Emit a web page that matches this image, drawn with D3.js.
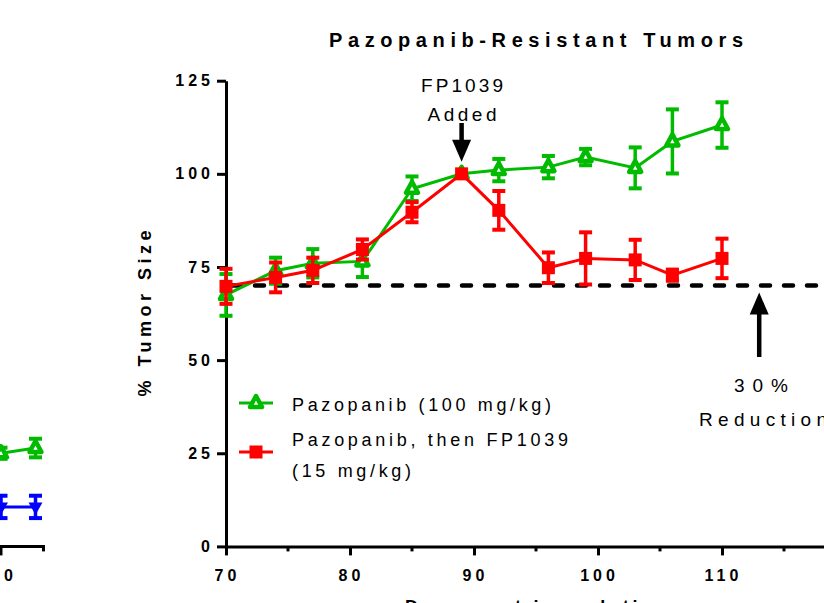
<!DOCTYPE html>
<html>
<head>
<script src="https://cdnjs.cloudflare.com/ajax/libs/d3/7.8.5/d3.min.js"></script>
<title>Pazopanib-Resistant Tumors</title>
<style>
  body { margin: 0; background: #fff; }
  svg { display: block; font-family: "Liberation Sans", Arial, sans-serif; }
</style>
</head>
<body>
<script>
// days post inoculation
var days = [70, 74, 77, 81, 85, 89, 92, 96, 99, 103, 106, 110];
// Pazopanib (100 mg/kg)
var pazMean = [67.5, 74, 76, 76.5, 96, 100, 101, 101.8, 104.5, 101.6, 108.7, 113.1];
var pazErr  = [5.6, 3.5, 3.8, 4.2, 3.3, 0, 3, 3, 2.2, 5.5, 8.6, 6.1];
// Pazopanib, then FP1039 (15 mg/kg)
var fpMean = [69.8, 72.2, 74.1, 79.7, 89.7, 100, 90.2, 74.8, 77.3, 76.9, 72.8, 77.3];
var fpErr  = [4.7, 4, 3.4, 2.7, 2.7, 0, 5.2, 4.1, 7, 5.4, 1.5, 5.3];

// edge of the previous panel (cut off on the left)
var prevDays = [110, 113];
var prevGreen = [25, 26.4], prevGreenErr = [1.5, 2.5];
var prevBlue = [10.6, 10.6], prevBlueErr = [3, 3];

var yTicks = [0, 25, 50, 75, 100, 125];
var xTicks = [70, 80, 90, 100, 110, 120];
var xMinor = [75, 85, 95, 105, 115];
var reductionLevel = 70;
var addedDay = 89, reductionDay = 113;

var green = "#00bb00", red = "#ff0000", blue = "#0000ff";
var width = 824, height = 603;

var svg = d3.select("body").append("svg")
    .attr("width", width)
    .attr("height", height);

var x = d3.scaleLinear().domain([70, 120]).range([226, 846]);
var y = d3.scaleLinear().domain([0, 125]).range([546.4, 80.7]);
var prevX = d3.scaleLinear().domain([110, 113]).range([1, 35.5]);

var triPath = "M0,-7L6,4L-6,4Z";
var downTriPath = "M0,8L7,-4.5L-7,-4.5Z";

function drawSeries(g, sx, xs, means, errs, color, marker) {
    var line = d3.line()
        .x(function(d, i) { return sx(xs[i]); })
        .y(function(d) { return y(d); });
    g.append("path")
        .datum(means)
        .attr("d", line)
        .attr("fill", "none")
        .attr("stroke", color)
        .attr("stroke-width", 3);

    var pts = g.selectAll("g.pt")
        .data(means)
        .enter()
        .append("g")
        .attr("class", "pt")
        .attr("transform", function(d, i) { return "translate(" + sx(xs[i]) + "," + y(d) + ")"; });

    pts.each(function(d, i) {
        var p = d3.select(this);
        var e = errs[i];
        if (e > 0) {
            var top = y(d + e) - y(d), bot = y(d - e) - y(d);
            p.append("line").attr("x1", 0).attr("x2", 0).attr("y1", top).attr("y2", bot)
                .attr("stroke", color).attr("stroke-width", 3.5);
            [top, bot].forEach(function(c) {
                p.append("line").attr("x1", -6.5).attr("x2", 6.5).attr("y1", c).attr("y2", c)
                    .attr("stroke", color).attr("stroke-width", 4);
            });
        }
        drawMarker(p, marker, color);
    });
}

function drawMarker(p, marker, color) {
    if (marker == "tri") {
        p.append("path").attr("d", triPath)
            .attr("fill", "#fff").attr("stroke", color).attr("stroke-width", 4.5)
            .attr("stroke-linejoin", "round");
    } else if (marker == "down") {
        p.append("path").attr("d", downTriPath).attr("fill", color);
    } else {
        p.append("rect").attr("x", -6.5).attr("y", -6.5).attr("width", 13).attr("height", 13)
            .attr("fill", color);
    }
}

// previous panel fragment
var prev = svg.append("g");
prev.append("line")
    .attr("x1", -20).attr("x2", 45).attr("y1", y(0)).attr("y2", y(0))
    .attr("stroke", "#000").attr("stroke-width", 3);
prev.append("line")
    .attr("x1", prevX(110)).attr("x2", prevX(110)).attr("y1", y(0)).attr("y2", y(0) + 9)
    .attr("stroke", "#000").attr("stroke-width", 3);
prev.append("line")
    .attr("x1", 43.5).attr("x2", 43.5).attr("y1", y(0)).attr("y2", y(0) + 5)
    .attr("stroke", "#000").attr("stroke-width", 3);
prev.append("text")
    .attr("x", prevX(110) - 3).attr("y", 581)
    .attr("text-anchor", "middle")
    .style("font-size", "16px").style("font-weight", "bold").style("letter-spacing", "4px")
    .text("110");
drawSeries(prev.append("g"), prevX, prevDays, prevGreen, prevGreenErr, green, "tri");
drawSeries(prev.append("g"), prevX, prevDays, prevBlue, prevBlueErr, blue, "down");

// axes
var yAxis = svg.append("g")
    .attr("transform", "translate(" + x(70) + ",0)")
    .call(d3.axisLeft(y).tickValues(yTicks).tickSize(9).tickSizeOuter(0).tickPadding(3));
var xAxis = svg.append("g")
    .attr("transform", "translate(0," + y(0) + ")")
    .call(d3.axisBottom(x).tickValues(xTicks).tickSize(9).tickSizeOuter(0).tickFormat(d3.format("d")));
xAxis.selectAll(".minor")
    .data(xMinor)
    .enter()
    .append("line")
    .attr("class", "minor")
    .attr("x1", function(d) { return x(d); })
    .attr("x2", function(d) { return x(d); })
    .attr("y1", 0).attr("y2", 5);

[xAxis, yAxis].forEach(function(a) {
    a.select(".domain").attr("stroke", "#000").attr("stroke-width", 3);
    a.selectAll("line").attr("stroke", "#000").attr("stroke-width", 3);
    a.selectAll("text")
        .attr("fill", "#000")
        .style("font-family", "'Liberation Sans', Arial, sans-serif")
        .style("font-size", "16px")
        .style("font-weight", "bold")
        .style("letter-spacing", "4px");
});
xAxis.selectAll(".tick text").attr("y", 35).attr("dy", 0).attr("dx", 1);

// 30% reduction line
svg.append("line")
    .attr("x1", x(70) + 6).attr("x2", width)
    .attr("y1", y(reductionLevel)).attr("y2", y(reductionLevel))
    .attr("stroke", "#000").attr("stroke-width", 4.5)
    .attr("stroke-linecap", "round")
    .attr("stroke-dasharray", "9,14");

// series
drawSeries(svg.append("g"), x, days, pazMean, pazErr, green, "tri");
drawSeries(svg.append("g"), x, days, fpMean, fpErr, red, "square");

// arrows
function arrow(cx, tipY, baseY, dir) {
    var head = 22 * dir;
    svg.append("line")
        .attr("x1", cx).attr("x2", cx)
        .attr("y1", baseY).attr("y2", tipY - head + dir * 2)
        .attr("stroke", "#000").attr("stroke-width", 4.5);
    svg.append("path")
        .attr("d", "M" + cx + "," + tipY + "L" + (cx + 9.5) + "," + (tipY - head) + "L" + (cx - 9.5) + "," + (tipY - head) + "Z")
        .attr("fill", "#000");
}
arrow(x(addedDay), y(100) - 12, 123, 1);
arrow(x(reductionDay), y(reductionLevel) + 7, 357, -1);

function label(tx, ty, str, anchor, size, weight, len) {
    var t = svg.append("text")
        .attr("x", tx).attr("y", ty)
        .attr("text-anchor", anchor || "start")
        .style("font-size", (size || 18) + "px")
        .style("font-weight", weight || "normal")
        .attr("fill", "#000")
        .text(str);
    if (len) t.attr("textLength", len).attr("lengthAdjust", "spacing");
    return t;
}

label(462, 92, "FP1039", "middle", 19, "normal", 82);
label(462, 121, "Added", "middle", 19, "normal", 69);
label(761, 392, "30%", "middle", 19, "normal", 54);
label(699, 426, "Reduction", "start", 19, "normal", 128);

// title and axis titles
label(536, 47, "Pazopanib-Resistant Tumors", "middle", 20, "bold", 414);
label(536, 613, "Days post inoculation", "middle", 18, "bold", 262);
label(0, 0, "% Tumor Size", "middle", 18, "bold", 166)
    .attr("transform", "translate(151," + ((y(0) + y(125)) / 2) + ") rotate(-90)");

// legend
var legend = [
    { name: ["Pazopanib (100 mg/kg)"], color: green, marker: "tri", ly: 403, ty: [411], len: [259] },
    { name: ["Pazopanib, then FP1039", "(15 mg/kg)"], color: red, marker: "square", ly: 452, ty: [446, 477], len: [276, 119] }
];
legend.forEach(function(l) {
    svg.append("line")
        .attr("x1", 239).attr("x2", 273).attr("y1", l.ly).attr("y2", l.ly)
        .attr("stroke", l.color).attr("stroke-width", 3);
    var p = svg.append("g").attr("transform", "translate(256," + l.ly + ")");
    drawMarker(p, l.marker, l.color);
    l.name.forEach(function(n, i) {
        label(292, l.ty[i], n, "start", 18, "normal", l.len[i]);
    });
});
</script>
</body>
</html>
